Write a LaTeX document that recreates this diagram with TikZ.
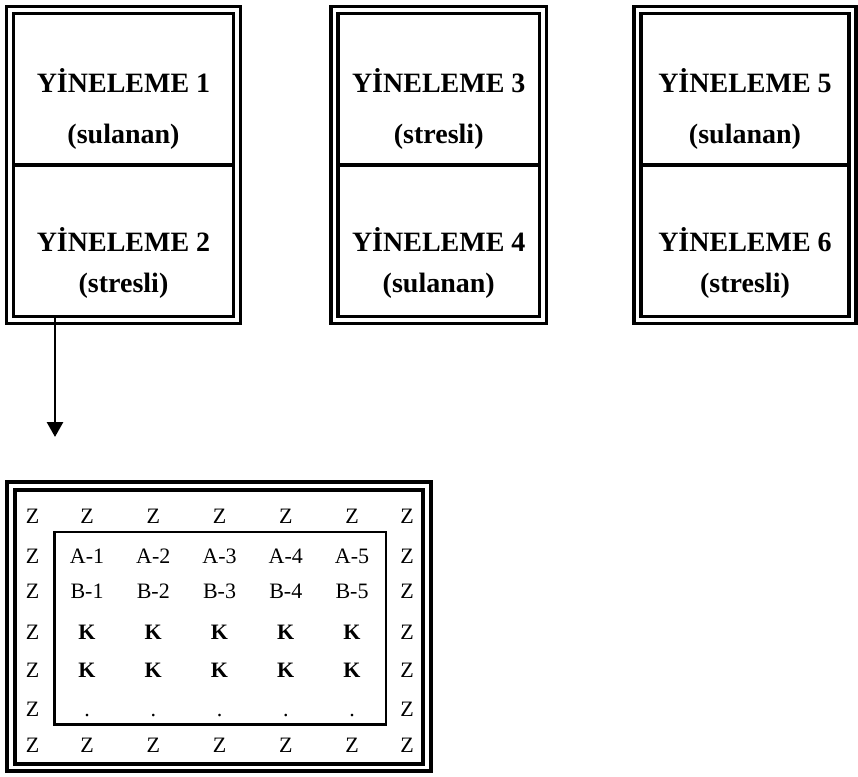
\documentclass[tikz,border=0pt]{standalone}
\usepackage{fontspec}
\setmainfont{Liberation Serif}
\usetikzlibrary{arrows.meta}
\begin{document}
\begin{tikzpicture}[x=1pt,y=-1pt,
  dbox/.style={draw, double, double distance=3.5pt, line width=3.5pt,
               outer sep=0pt, inner sep=0pt},
  gbox/.style={draw, double, double distance=3.5pt, line width=4pt,
               outer sep=0pt, inner sep=0pt},
  corebox/.style={draw, line width=2.5pt, outer sep=0pt, inner sep=0pt},
  divider/.style={line width=3.2pt},
  title/.style={font=\bfseries\fontsize{28}{30}\selectfont, anchor=base, inner sep=0pt},
  cell/.style={font=\fontsize{22}{24}\selectfont, anchor=base, inner sep=0pt},
  boldcell/.style={cell, font=\bfseries\fontsize{22}{24}\selectfont},
  arr/.style={line width=2.8pt, -{Triangle[length=15pt,width=16pt]}}]

\useasboundingbox (0,0) rectangle (858,776);

% three repetition boxes
\node[dbox, minimum width=227pt, minimum height=310pt] (b1) at (123.5,165) {};
\node[dbox, minimum width=208.5pt, minimum height=310pt] (b2) at (438.75,165) {};
\node[dbox, minimum width=215pt, minimum height=310pt] (b3) at (745,165) {};

\foreach \b in {b1,b2,b3}
  \draw[divider] ([xshift=3.5pt]\b.west) -- ([xshift=-3.5pt]\b.east);

% box labels
\node[title] (t1a) at (123.5,92)  {YİNELEME 1};
\node[title] (t1b) at (123.5,143) {(sulanan)};
\node[title] (t2a) at (123.5,251) {YİNELEME 2};
\node[title] (t2b) at (123.5,292) {(stresli)};

\node[title] (t3a) at (438.75,92)  {YİNELEME 3};
\node[title] (t3b) at (438.75,143) {(stresli)};
\node[title] (t4a) at (438.75,251) {YİNELEME 4};
\node[title] (t4b) at (438.75,292) {(sulanan)};

\node[title] (t5a) at (745,92)  {YİNELEME 5};
\node[title] (t5b) at (745,143) {(sulanan)};
\node[title] (t6a) at (745,251) {YİNELEME 6};
\node[title] (t6b) at (745,292) {(stresli)};

% arrow down to the plot layout
\coordinate (tip) at (55,437);
\draw[arr] ([yshift=3.5pt]b1.south -| tip) -- (tip);

% plot layout: border rows of Z around the inner block
\node[gbox, minimum width=416pt, minimum height=281.5pt] (grid) at (219,626.75) {};
\node[corebox, minimum width=331.5pt, minimum height=192.5pt] (core) at (220.25,628.25) {};

\def\colsx{{32.5,87,153.25,219.5,285.75,352,407}}
\def\rowsy{{523,563,598,639,677,716,752}}

\foreach \c in {0,...,6}{
  \pgfmathsetmacro\xx{\colsx[\c]}
  \node[cell] (z-1-\c) at (\xx,523) {Z};
  \node[cell] (z-7-\c) at (\xx,752) {Z};
}
\foreach \r in {1,...,5}{
  \pgfmathsetmacro\yy{\rowsy[\r]}
  \node[cell] (z-l-\r) at (32.5,\yy) {Z};
  \node[cell] (z-r-\r) at (407,\yy) {Z};
}
\foreach \c in {1,...,5}{
  \pgfmathsetmacro\xx{\colsx[\c]}
  \node[cell] (a-\c) at (\xx,563) {A-\c};
  \node[cell] (bb-\c) at (\xx,598) {B-\c};
  \node[boldcell] (k1-\c) at (\xx,639) {K};
  \node[boldcell] (k2-\c) at (\xx,677) {K};
  \node[cell] (d-\c) at (\xx,716) {.};
}
\end{tikzpicture}
\end{document}
